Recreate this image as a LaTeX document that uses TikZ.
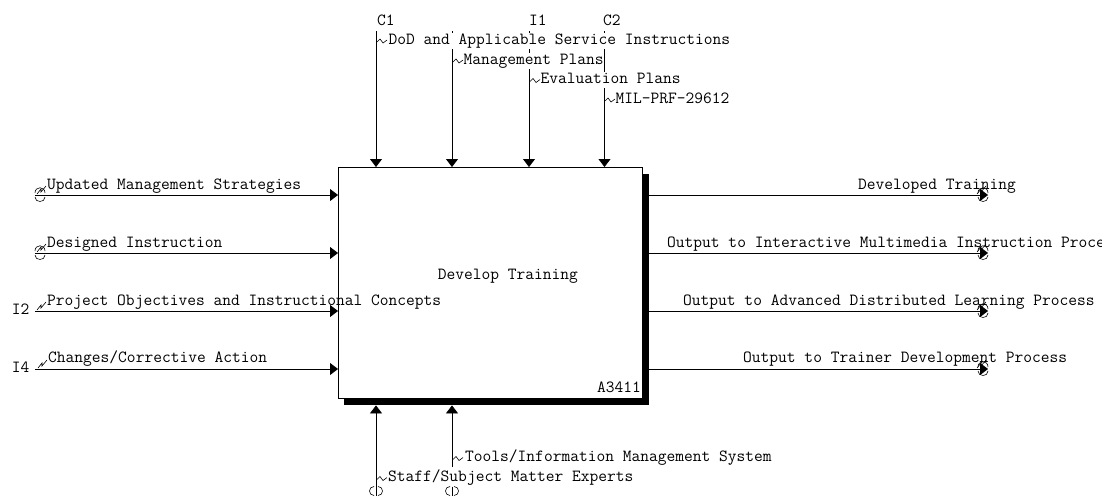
\documentclass[tikz,border=0pt]{standalone}
\usetikzlibrary{arrows.meta}
\newcommand\sqzh[1]{\draw[sq] #1 -- ++(3,-3) -- ++(3,4) -- ++(4,-3);}
\newcommand\sqzl[1]{\draw[sq] #1 -- ++(4,-5) -- ++(0,3) -- ++(5,-6);}
\newcommand\tunh[2]{\draw[sq] (#1-5,#2-2) .. controls (#1-5,#2-9) and (#1+5,#2-9) .. (#1+5,#2-2);
  \draw[sq] (#1-5,#2+2) .. controls (#1-5,#2+8) and (#1+5,#2+8) .. (#1+5,#2+2);}
\newcommand\tunv[2]{\draw[sq] (#1-2,#2-4.5) .. controls (#1-8,#2-4.5) and (#1-8,#2+4.5) .. (#1-2,#2+4.5);
  \draw[sq] (#1+2,#2-4.5) .. controls (#1+8,#2-4.5) and (#1+8,#2+4.5) .. (#1+2,#2+4.5);
  \draw[sq] (#1,#2-4.5) -- (#1,#2+4.5);}
\begin{document}
\begin{tikzpicture}[x=1pt,y=-1pt,font=\ttfamily\fontsize{17}{19}\selectfont,
  lbl/.style={inner sep=0pt,anchor=base west},
  tlbl/.style={anchor=base west,fill=white,inner xsep=0.4pt,inner ysep=1pt,text height=10.5pt,text depth=3.5pt},
  arr/.style={line width=0.8pt,-{Triangle[length=8pt,width=12pt]}},
  sq/.style={line width=0.6pt}]
\useasboundingbox (0,0) rectangle (1102,498);
% box with shadow
\node[fill=black,inner sep=0pt,minimum width=305pt,minimum height=231pt,anchor=north west] (shadow) at (344,174) {};
\node[draw,fill=white,line width=0.8pt,inner sep=0pt,minimum width=304pt,minimum height=231pt,anchor=north west] (box) at (338,167) {};
\node[lbl] (title) at (437.7,279) {Develop Training};
\node[inner sep=0pt,anchor=base east] (num) at (641,392.3) {A3411};
% top labels and lines
\node[lbl] (c1) at (377,25.7) {C1};
\node[lbl] (i1) at (529,25.7) {I1};
\node[lbl] (c2) at (603,25.7) {C2};
\coordinate (t1) at (376,31);
\coordinate (t2) at (452,31);
\coordinate (t3) at (529,31);
\coordinate (t4) at (604.5,31);
\draw[arr] (t1) -- (t1 |- box.north);
\draw[arr] (t2) -- (t2 |- box.north);
\draw[arr] (t3) -- (t3 |- box.north);
\draw[arr] (t4) -- (t4 |- box.north);
\node[tlbl] (l1) at (388,44) {DoD and Applicable Service Instructions};
\node[tlbl] (l2) at (463,64) {Management Plans};
\node[tlbl] (l3) at (540,83.5) {Evaluation Plans};
\node[tlbl] (l4) at (615,103) {MIL-PRF-29612};
\sqzh{(377,42)}
\sqzh{(453,62)}
\sqzh{(530,81.5)}
\sqzh{(605,101)}
% left inputs
\coordinate (in1) at (35,195);
\coordinate (in2) at (35,253);
\coordinate (in3) at (35,311);
\coordinate (in4) at (35,369);
\foreach \n in {in1,in2,in3,in4} \draw[arr] (\n) -- (\n -| box.west);
\node[lbl] (li1) at (47,189) {Updated Management Strategies};
\node[lbl] (li2) at (47,247.3) {Designed Instruction};
\node[lbl] (li3) at (47,305) {Project Objectives and Instructional Concepts};
\node[lbl] (li4) at (48,362.3) {Changes/Corrective Action};
\node[lbl] (ci2) at (11.7,314) {I2};
\node[lbl] (ci4) at (11.7,372.7) {I4};
\tunh{40}{195}
\tunh{40}{253}
\sqzl{(37,194)}
\sqzl{(37,252)}
\sqzl{(37,310)}
\sqzl{(38,368)}
% right outputs
\coordinate (o1) at (988,195);
\coordinate (o2) at (988,253);
\coordinate (o3) at (988,311);
\coordinate (o4) at (988,369);
\foreach \n in {o1,o2,o3,o4} \draw[arr] (\n -| shadow.east) -- (\n);
\node[lbl] (lo1) at (858,189) {Developed Training};
\node[lbl] (lo2) at (667,247) {Output to Interactive Multimedia Instruction Process};
\node[lbl] (lo3) at (683,305) {Output to Advanced Distributed Learning Process};
\node[lbl] (lo4) at (743,362) {Output to Trainer Development Process};
\foreach \yy in {195,253,311,369} {\tunh{983}{\yy} \sqzl{(977,\yy-1)}}
% bottom mechanisms
\coordinate (m1) at (376,494);
\coordinate (m2) at (452,467);
\draw[arr] (m1) -- (m1 |- shadow.south);
\draw[arr] (m2) -- (m2 |- shadow.south);
\node[lbl] (lm2) at (465,461.7) {Tools/Information Management System};
\node[lbl] (lm1) at (388,481.7) {Staff/Subject Matter Experts};
\sqzh{(377,479.5)}
\sqzh{(453,459.5)}
\tunv{376}{491}
\tunv{452}{491}
\end{tikzpicture}
\end{document}
